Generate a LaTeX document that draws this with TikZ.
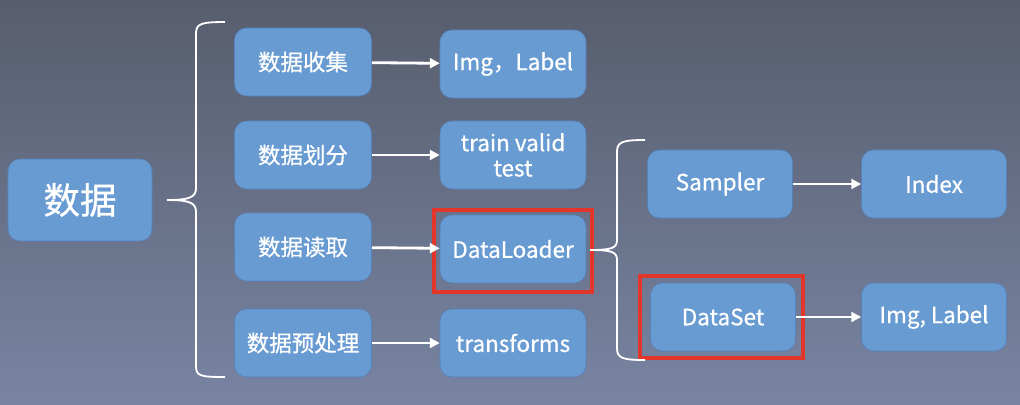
\documentclass[tikz,border=0pt]{standalone}
\usepackage{fontspec}
\setmainfont{Noto Sans CJK SC}[UprightFeatures={FakeBold=0.7}]
\usetikzlibrary{arrows.meta}
\definecolor{bgtop}{HTML}{575D6D}
\definecolor{bgbottom}{HTML}{7884A2}
\definecolor{boxfill}{HTML}{689BD2}
\definecolor{boxline}{HTML}{5580B8}
\definecolor{markred}{HTML}{E2362A}
\tikzset{
  databox/.style={draw=boxline, fill=boxfill, rounded corners=0.3cm,
                  text=white, align=center, inner sep=0pt,
                  font=\fontsize{16}{18}\selectfont,
                  minimum height=1.7cm},
  leftbox/.style={databox, minimum width=3.425cm},
  midbox/.style={databox, minimum width=3.65cm},
  rightbox/.style={databox, minimum width=3.625cm},
  flow/.style={draw=white, line width=2pt, -{Triangle[length=7pt, width=7pt]}},
  bracket/.style={draw=white, line width=1.3pt},
  highlight/.style={draw=markred, line width=2.2pt}
}
\begin{document}
\begin{tikzpicture}[x=0.025cm, y=-0.025cm]
  \shade[top color=bgtop, bottom color=bgbottom] (0,0) rectangle (1020,404);
  \useasboundingbox (0,0) rectangle (1020,404);
  % main node
  \node[databox, minimum width=3.6cm, minimum height=2.05cm,
        font=\fontsize{26}{30}\selectfont] (shuju) at (80,200) {数据};
  % first level
  \node[leftbox] (shouji) at (303,62) {数据收集};
  \node[leftbox] (huafen) at (303,155) {数据划分};
  \node[leftbox] (duqu) at (303,247) {数据读取};
  \node[leftbox] (yuchuli) at (303,343) {数据预处理};
  \node[midbox] (imglabel) at (513,64) {Img，Label};
  \node[midbox] (split) at (513,155) {train valid\\test};
  \node[midbox] (dataloader) at (513,249) {DataLoader};
  \node[midbox] (transforms) at (513,343) {transforms};
  % second level
  \node[rightbox] (sampler) at (720,184) {Sampler};
  \node[rightbox] (index) at (934,184) {Index};
  \node[rightbox] (dataset) at (723,317) {DataSet};
  \node[rightbox] (imglabelb) at (934,317) {Img, Label};
  % red marks
  \draw[highlight] (434,210) rectangle (592,292);
  \draw[highlight] (640,276) rectangle (803,358);
  % braces
  \coordinate (tipa) at (167,200);
  \coordinate (topa) at (225,22);
  \coordinate (bota) at (225,377);
  \draw[bracket] (topa) .. controls (200,22) and (196,24) .. (196,34)
    -- (196,188) .. controls (196,197) and (190,200) .. (tipa)
    .. controls (190,200) and (196,203) .. (196,212)
    -- (196,366) .. controls (196,376) and (200,377) .. (bota);
  \coordinate (tipb) at (590,250);
  \coordinate (topb) at (645,140);
  \coordinate (botb) at (645,360);
  \draw[bracket] (topb) .. controls (622,140) and (617,142) .. (617,152)
    -- (617,240) .. controls (617,248) and (612,250) .. (tipb)
    .. controls (612,250) and (617,252) .. (617,260)
    -- (617,348) .. controls (617,358) and (622,360) .. (botb);
  % arrows
  \draw[flow] (shouji) -- (imglabel);
  \draw[flow] (huafen) -- (split);
  \draw[flow] (duqu) -- (dataloader);
  \draw[flow] (yuchuli) -- (transforms);
  \draw[flow] (sampler) -- (index);
  \draw[flow] (dataset) -- (imglabelb);
\end{tikzpicture}
\end{document}
